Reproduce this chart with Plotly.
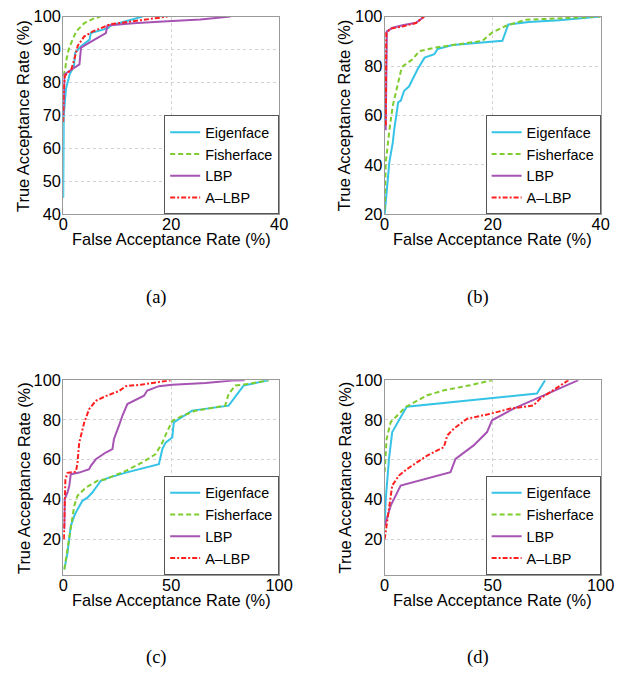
import plotly.graph_objects as go

# Layout is specified in reference-picture pixels and converted to figure
# pixels with the page->picture mapping measured in earlier runs
# (picture = S * page + (OX, OY)); the body margin is removed after plotting.
S, OX, OY, MARGIN = 0.975, 3.5, 6.4, 0
W, H = 640, 690

methods = ["Eigenface", "Fisherface", "LBP", "A\u2013LBP"]
colors = ["#35c3e6", "#7fcc2e", "#a653b3", "#ff1f1f"]
dashes = ["solid", "5px,3px", "solid", "5px,2px,2px,2px"]

# ---- panel (a) ----
a_eig_x = [0, 0.1, 0.5, 1.2, 2.0, 2.2, 3.3, 4.9, 5.1, 8.3, 8.8, 14.7]
a_eig_y = [45, 70, 78, 82.5, 85, 89, 91, 93, 95, 96.5, 97.3, 100]
a_fis_x = [0, 0.4, 0.6, 1.0, 1.6, 2.4, 3.9, 5.5, 6.9]
a_fis_y = [82, 84.5, 87, 90, 92.5, 95.5, 98, 99.3, 100]
a_lbp_x = [0, 0.1, 0.25, 3.0, 3.3, 5.8, 7.9, 8.2, 13, 19.3, 25.4, 31]
a_lbp_y = [70, 78, 82.5, 85.5, 90.6, 93, 95, 97.3, 98, 98.6, 99.1, 100]
a_alb_x = [0, 0.1, 0.3, 1.5, 2.1, 2.7, 3.9, 5.5, 7, 8.8, 14.4, 19.3]
a_alb_y = [68, 78, 82, 84, 87.3, 91.2, 94, 95.5, 96.5, 97.7, 98.9, 100]

# ---- panel (b) ----
b_eig_x = [0, 0.4, 0.86, 1.5, 1.78, 2.5, 3.0, 3.6, 4.5, 6.1, 7.4, 9.2, 9.8, 12.6, 21.8, 22.9, 26.7, 32.3, 40]
b_eig_y = [20, 30, 41, 49, 54.5, 65.3, 66, 70, 71.7, 78.7, 83.4, 84.8, 86.9, 88.5, 90.2, 96.8, 97.8, 98.5, 100]
b_fis_x = [0, 0.2, 0.9, 1.5, 3.0, 3.4, 5.2, 6.4, 9.5, 18.1, 19.9, 22.4, 26.1, 40]
b_fis_y = [22, 41, 54.5, 63.9, 78, 80, 82.8, 86, 87.5, 90.2, 93.5, 96.2, 98.7, 100]
b_lbp_x = [0.2, 0.3, 0.4, 1.5, 3.3, 5.8, 7.3]
b_lbp_y = [54, 88, 94, 95.5, 96.5, 97.5, 100]
b_alb_x = [0.2, 0.25, 0.3, 1.2, 3.3, 5.8, 7.3]
b_alb_y = [56, 80, 93.5, 95.2, 96, 97.4, 100]

# ---- panel (c) ----
c_eig_x = [0.5, 2, 3.5, 5.1, 6.6, 8.9, 11.2, 13.5, 17.4, 21.2, 29, 44.3, 45.9, 47.4, 50.5, 51.2, 53.5, 59.7, 76.6, 78.9, 83.5, 95]
c_eig_y = [4.8, 13.2, 26.6, 31.7, 35, 39.3, 40.9, 43.5, 49.4, 51, 53.5, 57.7, 65.3, 68.6, 71.2, 78.8, 80.4, 84.7, 87.2, 90.6, 97.3, 100]
c_fis_x = [0.5, 2.8, 4.3, 5.1, 6.6, 10.5, 15.9, 19.7, 29, 36.6, 42.8, 45.9, 48.2, 50.5, 55.1, 61.2, 75, 76.6, 79.7, 85.8, 95]
c_fis_y = [4.8, 20, 31.7, 36.7, 41.8, 46, 49.4, 50.2, 54.4, 58.6, 62.8, 68.6, 74.4, 79.5, 82, 84.6, 87.2, 93.1, 97.3, 98.1, 100]
c_lbp_x = [0.5, 0.7, 2, 2.8, 3.5, 7.4, 12, 12.8, 15.1, 19.7, 22.8, 23.5, 25.8, 27.4, 29.7, 34.3, 37.4, 38.9, 44.3, 50.5, 65.9, 78.2, 84]
c_lbp_y = [25, 40.2, 43.5, 46.8, 52.7, 53.5, 55.2, 56.9, 60.2, 63.6, 65.3, 70.4, 77.1, 82.1, 88, 90.6, 92.2, 94.8, 97, 97.7, 98.6, 99.8, 100]
c_alb_x = [0.3, 0.5, 1.0, 2, 5.9, 6.6, 7.4, 9.7, 10.5, 12, 15.1, 19.7, 25.8, 29, 36.6, 42.8, 49.7]
c_alb_y = [20, 33.5, 50, 53.4, 54, 58.4, 68.5, 78.6, 81, 85.4, 89.6, 92, 94.5, 97, 97.8, 98.7, 100]

# ---- panel (d) ----
d_eig_x = [0, 0.5, 2, 3.5, 10.2, 70.5, 74.3]
d_eig_y = [26.8, 40, 60.4, 73.9, 86.6, 93.3, 100]
d_fis_x = [0, 0.9, 2.8, 9.7, 19.7, 27.4, 39.7, 49.7]
d_fis_y = [53.7, 70.5, 78.9, 86.5, 92.4, 94.9, 97.5, 100]
d_lbp_x = [0, 2.8, 7.4, 30.5, 32.8, 41.2, 47.4, 49.7, 59.7, 70.5, 89.7]
d_lbp_y = [26.8, 36.9, 47, 53.7, 60.4, 67.2, 73.9, 79.8, 85.7, 90.8, 100]
d_alb_x = [0, 1.2, 3.5, 6.6, 10.5, 19.7, 27.4, 29, 32, 38.2, 48.9, 58.1, 68.9, 72, 85.1]
d_alb_y = [20, 28.6, 47, 52, 55.4, 62.1, 66.3, 72.2, 75.6, 80.6, 83.1, 85.7, 87.3, 90.7, 100]

panel_labels = ["(a)", "(b)", "(c)", "(d)"]
x_ranges = [[0, 40], [0, 40], [0, 100], [0, 100]]
x_ticks = [[0, 20, 40], [0, 20, 40], [0, 50, 100], [0, 50, 100]]
y_ranges = [[40, 100], [20, 100], [2, 100], [2, 100]]
y_ticks = [[40, 50, 60, 70, 80, 90, 100], [20, 40, 60, 80, 100],
           [20, 40, 60, 80, 100], [20, 40, 60, 80, 100]]

panels = [
    [(a_eig_x, a_eig_y), (a_fis_x, a_fis_y), (a_lbp_x, a_lbp_y), (a_alb_x, a_alb_y)],
    [(b_eig_x, b_eig_y), (b_fis_x, b_fis_y), (b_lbp_x, b_lbp_y), (b_alb_x, b_alb_y)],
    [(c_eig_x, c_eig_y), (c_fis_x, c_fis_y), (c_lbp_x, c_lbp_y), (c_alb_x, c_alb_y)],
    [(d_eig_x, d_eig_y), (d_fis_x, d_fis_y), (d_lbp_x, d_lbp_y), (d_alb_x, d_alb_y)],
]

# reference-picture pixel boxes of each plot area: (left, right, top, bottom)
boxes = [(62, 279, 14, 212), (385, 602, 14, 212), (62, 279, 378, 573), (385, 602, 378, 573)]

SANS = "Liberation Sans, Arial, Helvetica, sans-serif"
SERIF = "Liberation Serif, Times New Roman, serif"


def clamp(v):
    return min(1.0, max(0.0, v))


def px(xr):
    return clamp(((xr - OX) / S - MARGIN) / W)


def py(yr):
    return clamp(1 - ((yr - OY) / S - MARGIN) / H)


def fs(size):
    return round(size / S, 1)


fig = go.Figure()
layout = dict(
    width=W, height=H, margin=dict(l=0, r=0, t=0, b=0),
    paper_bgcolor="white", plot_bgcolor="white",
    font=dict(family=SANS, size=fs(16), color="black"),
    annotations=[],
)

for i, (series, box) in enumerate(zip(panels, boxes)):
    l, r, t, b = box
    n = "" if i == 0 else str(i + 1)
    leg = "legend" if i == 0 else "legend%d" % (i + 1)
    for k, (xs, ys) in enumerate(series):
        fig.add_trace(go.Scatter(
            x=xs, y=ys, mode="lines", name=methods[k],
            line=dict(color=colors[k], width=2, dash=dashes[k]),
            xaxis="x" + n, yaxis="y" + n, legend=leg, showlegend=True,
        ))
    ax = dict(showline=True, mirror=True, linecolor="#9a9a9a", linewidth=1,
              showgrid=True, gridcolor="#d2d2d2", griddash="dot", gridwidth=1,
              zeroline=False, ticks="",
              tickfont=dict(size=fs(16), family=SANS, color="black"))
    layout["xaxis" + n] = dict(ax, domain=[px(l), px(r)], range=x_ranges[i],
                               tickvals=x_ticks[i], anchor="y" + n, ticklabelstandoff=-5)
    layout["yaxis" + n] = dict(ax, domain=[py(b), py(t)], range=y_ranges[i],
                               tickvals=y_ticks[i], anchor="x" + n, ticklabelstandoff=-2)
    layout[leg] = dict(
        x=px(r), y=py(b), xanchor="right", yanchor="bottom",
        xref="paper", yref="paper",
        bgcolor="white", bordercolor="#555555", borderwidth=1,
        font=dict(size=fs(14), family=SANS, color="black"),
        itemwidth=30, tracegroupgap=0,
    )
    cx = (l + r) / 2
    layout["annotations"].append(dict(
        text="False Acceptance Rate (%)", x=px(cx), y=py(b + 25),
        xref="paper", yref="paper", showarrow=False, xanchor="center", yanchor="middle",
        font=dict(size=fs(16), family=SANS, color="black")))
    layout["annotations"].append(dict(
        text="True Acceptance Rate (%)", x=px(l - 40), y=py((t + b) / 2),
        xref="paper", yref="paper", showarrow=False, xanchor="center", yanchor="middle",
        textangle=-90, font=dict(size=fs(16), family=SANS, color="black")))
    layout["annotations"].append(dict(
        text=panel_labels[i], x=px(cx - 15), y=py(b + 83),
        xref="paper", yref="paper", showarrow=False, xanchor="center", yanchor="middle",
        font=dict(size=fs(18), family=SERIF, color="black")))

fig.update_layout(**layout)
fig.write_html("out.html", config={"displayModeBar": False},
               post_script="document.body.style.margin='0';")
